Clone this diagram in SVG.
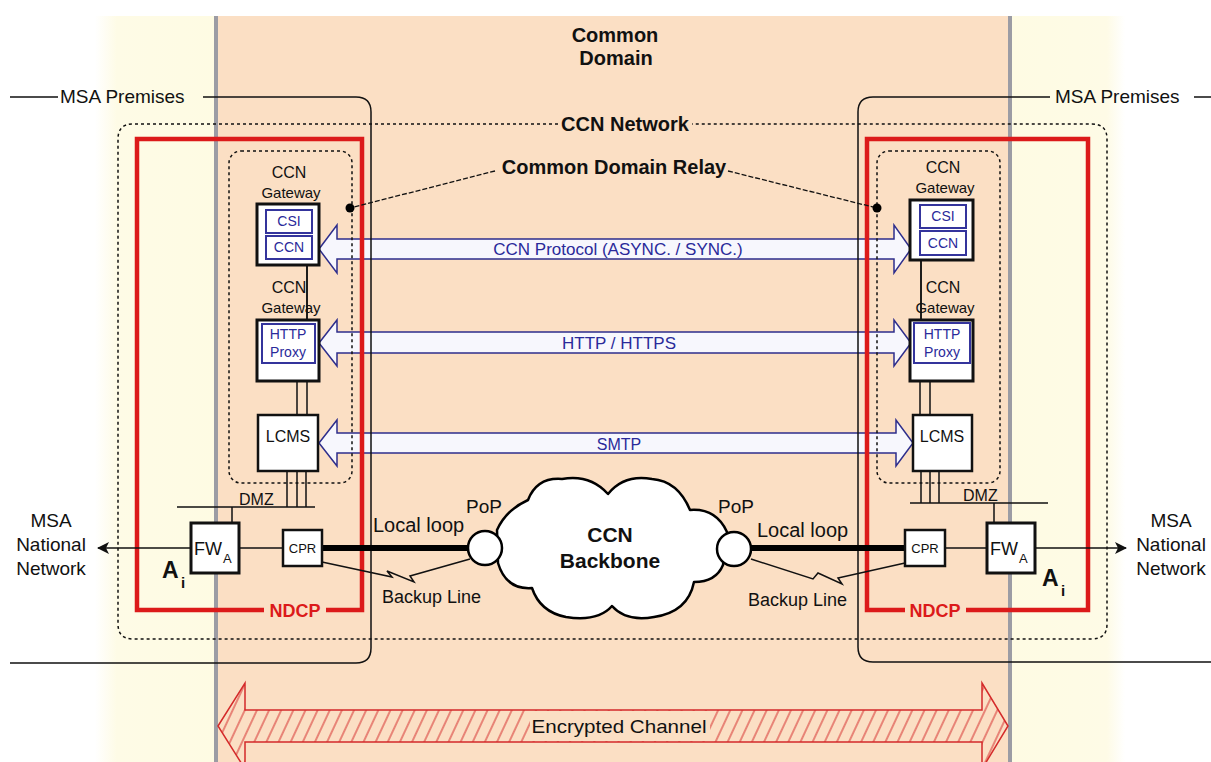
<svg xmlns="http://www.w3.org/2000/svg" width="1211" height="762" viewBox="0 0 1211 762">
<defs>
<style>
text{font-family:"Liberation Sans",Arial,sans-serif;fill:#111}
.b{font-weight:bold}
.m{text-anchor:middle}
.dot{fill:none;stroke:#111;stroke-width:1.5;stroke-dasharray:3 3}
.red{fill:none;stroke:#dc1a1a;stroke-width:4.5}
.prem{fill:none;stroke:#111;stroke-width:1.5}
.box{fill:#fff;stroke:#111;stroke-width:3}
.box2{fill:#fff;stroke:#111;stroke-width:2.5}
.ibox{fill:#fff;stroke:#34349c;stroke-width:2}
.ln{fill:none;stroke:#111;stroke-width:1.5}
.barrow{fill:#f7f7fd;stroke:#2e2e8c;stroke-width:1.5}
.btxt{fill:#2a2a9a}
.lead{fill:none;stroke:#111;stroke-width:1.3;stroke-dasharray:5 2}
.thick{fill:none;stroke:#000;stroke-width:6}
.rtxt{fill:#dc1a1a;font-weight:bold}
</style>
<linearGradient id="creamL" x1="95" y1="0" x2="216" y2="0" gradientUnits="userSpaceOnUse"><stop offset="0" stop-color="#ffffff"/><stop offset="0.18" stop-color="#fefbe6"/><stop offset="1" stop-color="#fefbe3"/></linearGradient>
<linearGradient id="creamR" x1="1012" y1="0" x2="1125" y2="0" gradientUnits="userSpaceOnUse"><stop offset="0" stop-color="#fefbe3"/><stop offset="0.84" stop-color="#fefbe6"/><stop offset="1" stop-color="#ffffff"/></linearGradient>
<pattern id="hatch" width="11" height="11" patternUnits="userSpaceOnUse" patternTransform="rotate(25)"><line x1="5" y1="-1" x2="5" y2="12" stroke="#d42a2a" stroke-width="1"/></pattern>
<marker id="tri" viewBox="0 0 12 12" refX="11" refY="6" markerWidth="13" markerHeight="12" markerUnits="userSpaceOnUse" orient="auto"><path d="M0,0 L12,6 L0,12 L3,6 Z" fill="#111"/></marker>
</defs>

<g id="background">
<rect x="0" y="0" width="1211" height="762" fill="#fff"/>
<rect x="95" y="16" width="121" height="746" fill="url(#creamL)"/>
<rect x="1012" y="16" width="113" height="746" fill="url(#creamR)"/>
<rect x="216" y="16" width="796" height="746" fill="#fbdfc4"/>
<line x1="216" y1="16" x2="216" y2="762" stroke="#9c9ca4" stroke-width="4"/>
<line x1="1010" y1="16" x2="1010" y2="762" stroke="#9c9ca4" stroke-width="4"/>
</g>

<g id="common-domain">
<text class="b m" x="615" y="42" font-size="20">Common</text>
<text class="b m" x="616" y="65" font-size="20">Domain</text>
</g>

<g id="protocol-arrows">
<path class="barrow" d="M319,249 L337,225 L337,239 L894,239 L894,225 L911,249 L894,273 L894,259 L337,259 L337,273 Z"/>
<text class="btxt m" x="618" y="255" font-size="17">CCN Protocol (ASYNC. / SYNC.)</text>
<path class="barrow" d="M319,343 L337,320 L337,332 L894,332 L894,320 L911,343 L894,366 L894,353 L337,353 L337,366 Z"/>
<text class="btxt m" x="619" y="349" font-size="17">HTTP / HTTPS</text>
<path class="barrow" d="M319,443 L337,420 L337,433 L896,433 L896,420 L913,443 L896,466 L896,453 L337,453 L337,466 Z"/>
<text class="btxt m" x="619" y="450" font-size="16">SMTP</text>
</g>

<g id="ccn-network">
<path class="dot" d="M558,124 L133,124 Q118,124 118,139 L118,624 Q118,639 133,639 L1092,639 Q1107,639 1107,624 L1107,139 Q1107,124 1092,124 L692,124"/>
<text class="b m" x="625" y="131" font-size="20">CCN Network</text>
</g>

<g id="msa-premises-left">
<path class="prem" d="M10,97 L58,97 M203,97 L356,97 Q371,97 371,112 L371,648 Q371,663 356,663 L10,663"/>
<text x="60" y="103" font-size="19">MSA Premises</text>
</g>
<g id="msa-premises-right">
<path class="prem" d="M1050,97 L873,97 Q858,97 858,112 L858,647 Q858,662 873,662 L1211,662 M1194,97 L1211,97"/>
<text x="1055" y="103" font-size="19">MSA Premises</text>
</g>

<g id="ndcp-left">
<path class="red" d="M264,610 L137,610 L137,139 L362,139 L362,610 L326,610"/>
<text class="rtxt m" x="295" y="617" font-size="18">NDCP</text>
</g>
<g id="ndcp-right">
<path class="red" d="M905,610 L867,610 L867,139 L1088,139 L1088,610 L966,610"/>
<text class="rtxt m" x="935" y="617" font-size="18">NDCP</text>
</g>

<g id="relay-left">
<rect class="dot" x="229" y="151" width="123" height="332" rx="12"/>
</g>
<g id="relay-right">
<rect class="dot" x="877" y="151" width="123" height="332" rx="12"/>
</g>

<g id="relay-label">
<text class="b m" x="614" y="174" font-size="20">Common Domain Relay</text>
<path class="lead" d="M495,171 L350,208 M728,171 L877,208"/>
<circle cx="350" cy="208" r="4.5" fill="#000"/>
<circle cx="877" cy="208" r="4.5" fill="#000"/>
</g>

<g id="connectors">
<path class="ln" d="M307,265 L307,320 M297,381 L297,415 M307,381 L307,415 M287,471 L287,507 M297,471 L297,507 M306,471 L306,507 M177,507 L315,507 M232,507 L232,523 M239,548 L283,548"/>
<path class="ln" d="M921,260 L921,320 M920,381 L920,415 M930,381 L930,415 M921,471 L921,503 M930,471 L930,503 M939,471 L939,503 M910,503 L1048,503 M994,503 L994,523 M945,548 L987,548"/>
<path class="ln" d="M191,548 L98,548" marker-end="url(#tri)"/>
<path class="ln" d="M1035,548 L1126,548" marker-end="url(#tri)"/>
<path class="thick" d="M322,548 L470,548 M750,548 L905,548"/>
<polyline class="ln" stroke-width="1.2" points="322,562 392,577 387,571 414,582 410,576 470,559"/>
<polyline class="ln" stroke-width="1.2" points="751,559 813,579 818,573 842,584 838,578 905,563"/>
</g>

<g id="gateway-left">
<text class="m" x="289" y="178" font-size="16" fill="#222">CCN</text>
<text class="m" x="291" y="198" font-size="15" fill="#222">Gateway</text>
<rect class="box" x="257" y="204" width="62" height="61"/>
<rect class="ibox" x="266" y="210" width="46" height="23"/>
<text class="btxt m" x="289" y="226" font-size="14">CSI</text>
<rect class="ibox" x="266" y="236" width="46" height="23"/>
<text class="btxt m" x="289" y="252" font-size="14">CCN</text>
<text class="m" x="289" y="293" font-size="16" fill="#222">CCN</text>
<text class="m" x="291" y="313" font-size="15" fill="#222">Gateway</text>
<rect class="box" x="257" y="320" width="62" height="61"/>
<rect class="ibox" x="262" y="324" width="53" height="39"/>
<text class="btxt m" x="288" y="339" font-size="14">HTTP</text>
<text class="btxt m" x="288" y="357" font-size="14">Proxy</text>
<path class="ln" d="M307,265 L307,320"/>
<rect class="box2" x="258" y="415" width="60" height="56"/>
<text class="m" x="288" y="442" font-size="16">LCMS</text>
<text x="239" y="505" font-size="16">DMZ</text>
</g>

<g id="gateway-right">
<text class="m" x="943" y="173" font-size="16" fill="#222">CCN</text>
<text class="m" x="945" y="193" font-size="15" fill="#222">Gateway</text>
<rect class="box" x="910" y="200" width="63" height="60"/>
<rect class="ibox" x="920" y="205" width="46" height="23"/>
<text class="btxt m" x="943" y="221" font-size="14">CSI</text>
<rect class="ibox" x="920" y="231" width="46" height="24"/>
<text class="btxt m" x="943" y="248" font-size="14">CCN</text>
<text class="m" x="943" y="293" font-size="16" fill="#222">CCN</text>
<text class="m" x="945" y="313" font-size="15" fill="#222">Gateway</text>
<rect class="box" x="910" y="320" width="63" height="61"/>
<rect class="ibox" x="914" y="323" width="56" height="40"/>
<text class="btxt m" x="942" y="339" font-size="14">HTTP</text>
<text class="btxt m" x="942" y="357" font-size="14">Proxy</text>
<path class="ln" d="M921,260 L921,320"/>
<rect class="box2" x="913" y="415" width="59" height="56"/>
<text class="m" x="942" y="442" font-size="16">LCMS</text>
<text x="963" y="501" font-size="16">DMZ</text>
</g>

<g id="fw-left">
<rect class="box" x="191" y="523" width="48" height="50"/>
<text x="194" y="555" font-size="18">FW</text>
<text x="223" y="563" font-size="13">A</text>
<text class="b" x="162" y="578" font-size="23">A</text>
<text class="b" x="181" y="588" font-size="15">i</text>
</g>
<g id="cpr-left">
<rect class="box2" x="283" y="530" width="39" height="36"/>
<text class="m" x="302.5" y="553" font-size="13">CPR</text>
</g>
<g id="fw-right">
<rect class="box" x="987" y="523" width="48" height="50"/>
<text x="990" y="555" font-size="18">FW</text>
<text x="1019" y="563" font-size="13">A</text>
<text class="b" x="1042" y="586" font-size="23">A</text>
<text class="b" x="1061" y="596" font-size="15">i</text>
</g>
<g id="cpr-right">
<rect class="box2" x="905" y="530" width="40" height="36"/>
<text class="m" x="925" y="553" font-size="13">CPR</text>
</g>

<g id="msa-national-left">
<text class="m" x="51" y="527" font-size="19">MSA</text>
<text class="m" x="51" y="551" font-size="19">National</text>
<text class="m" x="51" y="575" font-size="19">Network</text>
</g>
<g id="msa-national-right">
<text class="m" x="1171" y="527" font-size="19">MSA</text>
<text class="m" x="1171" y="551" font-size="19">National</text>
<text class="m" x="1171" y="575" font-size="19">Network</text>
</g>

<g id="ccn-backbone">
<path d="M497,530 Q506,510 528,500 Q537,477 562,479 Q590,474 608,494 Q624,474 652,479 Q678,481 690,510 Q716,508 727,532 L723,565 Q716,582 694,582 Q688,612 654,617 Q626,622 612,606 Q598,622 566,617 Q540,612 532,588 Q506,590 498,563 Z" fill="#fff" stroke="#000" stroke-width="2.5" stroke-linejoin="round"/>
<text class="b m" x="610" y="542" font-size="21">CCN</text>
<text class="b m" x="610" y="568" font-size="21">Backbone</text>
</g>
<g id="pop-left">
<circle cx="485" cy="548" r="17" fill="#fff" stroke="#000" stroke-width="2.5"/>
<text x="466" y="513" font-size="19">PoP</text>
</g>
<g id="pop-right">
<circle cx="734" cy="549" r="17" fill="#fff" stroke="#000" stroke-width="2.5"/>
<text x="718" y="513" font-size="19">PoP</text>
</g>
<g id="link-labels">
<text x="373" y="532" font-size="20">Local loop</text>
<text x="757" y="537" font-size="20">Local loop</text>
<text x="382" y="603" font-size="18">Backup Line</text>
<text x="748" y="606" font-size="18">Backup Line</text>
</g>

<g id="encrypted-channel">
<path d="M218,726 L245,683 L245,710 L982,710 L982,683 L1008,726 L982,769 L982,742 L245,742 L245,769 Z" fill="url(#hatch)" stroke="#d42a2a" stroke-width="1.5"/>
<rect x="530" y="711" width="180" height="30" fill="#fbdfc4"/>
<text class="m" x="619" y="733" font-size="19" fill="#c42828" textLength="175" lengthAdjust="spacingAndGlyphs">Encrypted Channel</text>
</g>
</svg>
